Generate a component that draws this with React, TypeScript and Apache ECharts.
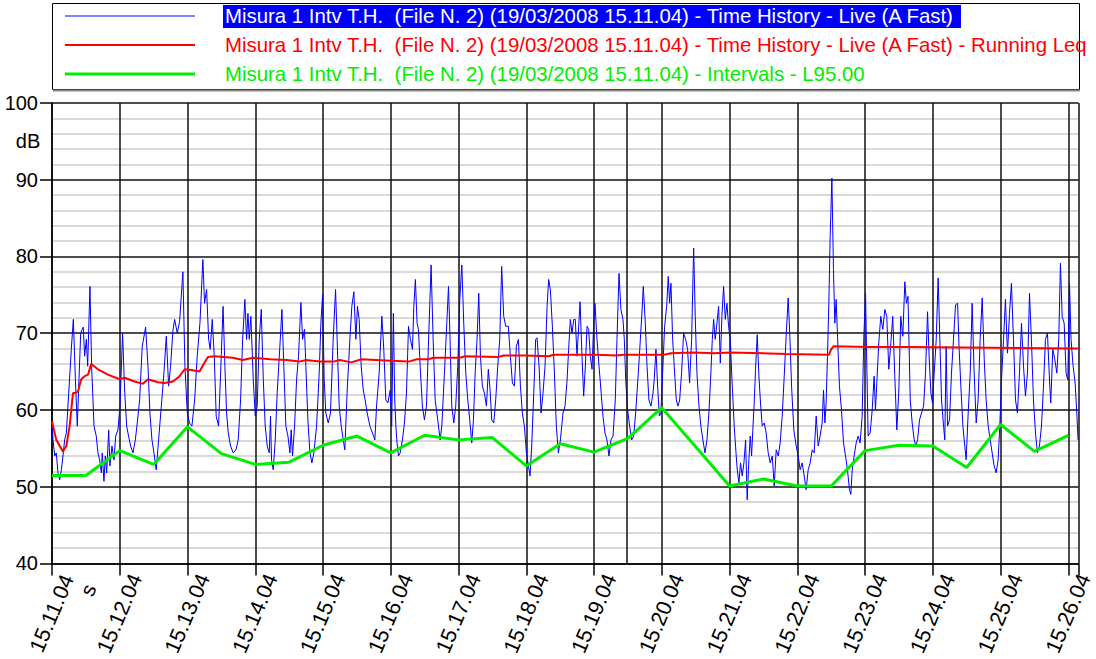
import React, { useEffect, useRef } from "react";
import * as echarts from "echarts";

// Time in seconds from 15.11.04, level in dB
const liveTrace: [number, number][] = [
  [0,58.3],[0.9,56.1],[2.4,54],[3.8,54.4],[5.3,51.8],[6.8,50.9],[8.3,52.2],[9.7,54],[11.2,56.1],[12.7,57],[14.8,62.2],[17.1,67.9],[18.9,71.8],[20.7,64],[22.4,57.9],[23.9,64],[25.4,70],[26.8,70.5],[27.7,70.8],[28.9,67],[30.4,69.2],[31.6,65.7],[33.6,76.1],[35.1,65.7],[37.2,57.9],[39.2,56.6],[40.7,54.4],[42.2,53.5],[43.7,51.8],[44.5,54.4],[46,50.7],[47.2,54],[48.4,51.8],[50.2,57.4],[51.3,52.7],[53.1,55.3],[54.9,53.5],[56.4,56.6],[58.4,57.4],[60.2,60.5],[62.5,70],[64.3,62.6],[66.1,57.9],[67.8,56.6],[69.6,55.3],[71.7,54.4],[73.8,56.1],[75.5,58.3],[77.6,61.3],[79.9,68.3],[82.9,70.8],[85,65.7],[86.7,59.6],[88.5,56.1],[90.3,54.4],[92.3,52.2],[94.4,56.1],[96.8,60.5],[99.1,64.8],[101.2,69.6],[103.3,63.1],[105,65.7],[107.1,70.4],[108.6,71.8],[110.9,70],[113,71.5],[115.9,78],[117.7,65.7],[119.8,59.6],[121.8,58.3],[123.9,57.9],[126.3,61.3],[128.6,67],[131,71.3],[133.6,79.6],[135.1,73.9],[136.9,75.7],[138.7,69.2],[140.1,67.9],[141.9,71.8],[143.7,67],[145.4,59.2],[147.5,57.9],[149.3,64.8],[151.5,73.5],
  [153.1,65.7],[154.6,59.6],[156.1,57],[158.1,55.3],[160.5,54.4],[162.9,54.8],[164.9,56.1],[167,61.3],[168.8,69.2],[170.8,74.4],[172.3,69.2],[173.5,72.6],[174.7,69.2],[176.1,72.2],[178.2,64],[180,59.2],[181.7,60.5],[183.5,69.2],[185.3,73.1],[187.1,64],[188.8,57.9],[190.6,55.3],[192.4,54.4],[193.5,59.2],[194.4,53.5],[195.9,52.2],[197.7,56.1],[199.4,62.2],[201.8,68.3],[203.6,73.1],[205.3,65.7],[207.1,57.9],[208.9,56.6],[210.7,54.4],[211.8,57.4],[213,54],[214.8,57.9],[216.6,64],[218.3,67],[220.4,74],[221.9,69.2],[223.6,70.5],[224.8,65.7],[226.6,58.7],[228.4,54.4],[230.1,53.1],[231.9,54.4],[234.3,57.9],[236.6,64.8],[238.1,71.3],[239.6,75],[241,64],[242.5,59.6],[244.6,58.3],[246.6,59.6],[249,69.2],[251.1,75.7],[252.5,69.2],[254.3,60.5],[256.1,57.9],[257.9,56.1],[259.3,54.8],[261.4,62.6],[263.8,69.2],[265.5,73.5],[267.3,75.4],[269.1,69.2],[270.5,73.5],[272,71.8],[273.8,65.7],[275.6,62.6],[277.3,61.3],[279.1,59.6],[281.5,57.9],[283.8,57],[285.9,56.1],[287.4,60.5],[289.7,64.8],[292.1,72.2],[293.8,67.9],[295.6,61.3],[297.4,60.9],[299.5,62.6],[300.8,57.9],[302.3,72.6],[303.5,61.3],[304.5,57.9],
  [305.3,56.1],[306.8,54],[308.3,54.4],[310.3,56.1],[312.1,58.3],[313.9,62.2],[315.7,70.9],[317.4,69.2],[319.2,67.9],[320.4,73.5],[321.8,77],[323.3,71.3],[324.5,70.5],[326,65.7],[328,60.5],[329.8,58.7],[331.6,60.5],[333.3,68.3],[335.7,78.9],[337.5,69.2],[339.3,61.3],[341.6,58.7],[343.7,56.1],[345.2,57.9],[347.5,64.8],[349.6,71.3],[351.1,76.1],[352.5,69.2],[354,60.5],[355.8,58.3],[357.5,60.5],[359.3,65.7],[361.1,74.4],[362.9,78.9],[364.6,71.3],[366.4,64.8],[368.2,61.3],[369.9,58.7],[371.7,55.7],[373.2,58.7],[374.7,64.8],[376.4,69.2],[377.9,75.2],[379.4,67],[381.1,63.1],[382.9,62.2],[384.7,60.5],[386.4,65.3],[387.9,62.6],[389.4,58.7],[391.2,58.3],[392.9,61.3],[394.7,65.7],[396.5,69.2],[398.2,78.7],[400,72.2],[401.8,70.9],[404.1,70.9],[405.9,67],[407.7,63.5],[409.5,63.1],[411.2,68.3],[413,69.2],[414.8,63.1],[416.5,59.6],[418.3,57.9],[420.1,54.4],[421.9,52.7],[423.3,51.4],[424.8,55.3],[426.6,62.2],[428.3,69.2],[429.5,69.4],[431.3,65.7],[433.1,59.6],[434.8,62.2],[436.6,65.7],[438.4,73.5],[439.8,77],[441.3,75.7],[443.1,70.9],[444.9,64.8],[446.6,57.9],[448.4,54.4],[450.2,56.1],[452.5,59.6],
  [454.3,60.5],[456.1,63.9],[457.5,67.9],[459,71.8],[460.5,70],[462,71.8],[463.4,71.8],[464.9,67],[466.4,70.9],[467.6,74.1],[469.3,67],[470.8,61.8],[472.3,65.7],[473.8,70.9],[475.2,70.5],[476.7,67],[478.2,65.3],[479.7,71.3],[480.8,73.9],[482.6,69.2],[484.4,65.7],[486.1,62.6],[487.9,59.2],[489.7,57],[491.4,56.1],[493.2,54],[495,56.1],[496.8,56.6],[498.8,61.3],[500.3,69.2],[502.1,77.8],[503.8,73.1],[505.6,71.8],[506.8,69.2],[508,64],[509.7,60],[511.5,57.9],[513.3,56.1],[515.1,56.6],[516.8,59.6],[519.2,64.8],[521,69.2],[522.4,72.6],[523.6,76.1],[525.4,71.3],[526.9,65.7],[528.6,61.3],[530.4,60.5],[532.2,62.2],[533.3,64],[534.8,67.9],[536.3,63.1],[537.8,59.2],[539.2,59.6],[540.7,64.8],[542.5,70.9],[544.3,73.5],[545.7,77.4],[546.9,73.9],[548.1,76.5],[549.6,69.2],[551,65.7],[552.8,61.3],[554.3,60.5],[555.8,61.3],[557.5,64.8],[559.3,70],[561.1,69.2],[562.8,67.9],[564.6,63.5],[566.4,69.2],[568.2,81.1],[569.6,72.2],[571.1,64.8],[572.9,60.5],[574.6,57.9],[576.4,56.1],[578.2,54.4],[580,56.1],[581.7,59.6],[583.2,64],[584.7,69.2],[585.9,71.8],[587.3,69.2],[588.8,71.3],[590.3,73.5],[591.8,66.1],[593.2,72.2],[594.7,76.1],[596.2,71.8],[597.7,73.9],[599.1,70.9],[600.6,69.2],[602.4,63.1],[604.1,57.9],[605.9,54],
  [606.8,52.2],[608.3,50.5],[609.7,53.1],[611.2,51.4],[612.7,53.1],[614.2,56.1],[615.6,48.3],[617.1,53.5],[618.3,56.6],[619.5,54],[620.6,57.4],[621.8,60.9],[623,65.3],[624.5,69.8],[626,64.4],[627.4,60.9],[628.9,57.9],[630.7,58.3],[632.4,57],[634.2,54.4],[636,53.1],[637.8,54],[639.5,50.1],[641.3,54.8],[643.1,54],[644.8,55.7],[646.6,59.2],[648.4,64.4],[650.1,69.6],[651.9,74.6],[653.4,69.6],[654.9,63.1],[656.9,57.4],[659,55.3],[660.8,54],[662.5,52.2],[664.3,53.1],[666.1,51.4],[667.8,49.6],[669.6,52.2],[671.4,53.1],[673.2,54.8],[674.9,54.4],[676.7,59.2],[678.5,55.3],[680.2,56.6],[682,58.3],[683.2,62.6],[684.4,58.3],[685.5,60.9],[686.7,67],[687.9,73.9],[689.1,82.6],[690.6,90.2],[692,78.3],[693.2,71.3],[694.4,74.4],[695.6,69.6],[697.3,63.1],[699.1,60],[700.9,55.7],[702.7,54],[704.4,52.2],[706.2,49.6],[707.4,49],[708.6,52.2],[710.3,54],[712.1,55.7],[713.9,56.6],[715.6,55.7],[717.4,59.2],[718.9,69.6],[720.4,75.2],[721.5,66.1],[722.7,56.6],[724.5,57],[726.3,60],[728,64.4],[729.2,60],[730.4,63.5],[732.1,68.7],[733.9,72.2],[735.7,70.5],[737.5,73.1],[739.2,72.2],[741,65.3],[742.8,68.7],[744.5,72.2],[746.3,64.4],[748.1,57.4],[749.9,62.6],[751.6,72.2],[753.4,69.6],[755.2,76.7],[756.6,73.9],[758,74.8],
  [760,61.3],[761.7,58.3],[763.5,56.1],[765,55.3],[766.5,56.1],[768.2,58.7],[770,59.6],[771.8,60.5],[773.5,64.8],[775.3,72.8],[776.8,66.6],[778.3,62.2],[779.7,60.9],[781.2,64.8],[783,69.2],[784.7,77.2],[786.2,69.2],[787.7,61.3],[789.5,57.9],[790.6,56.1],[791.8,68.3],[793,57.9],[794.8,58.7],[796.5,64.8],[798.3,69.2],[800.1,73.7],[801.9,73.9],[803.3,67.9],[804.8,63.1],[806.6,57.9],[808.3,55.3],[809.5,53.5],[811.3,59.6],[813.1,64.8],[814.8,73.9],[816.6,64.8],[818.4,58.3],[820.1,61.3],[821.9,69.2],[823.7,74.6],[825.5,66.6],[827.2,61.3],[829,57.9],[830.8,56.1],[832.5,54.4],[834.3,52.7],[836.1,51.8],[837.8,53.5],[839.3,57.9],[840.8,63.9],[842.6,69.2],[844.3,74.4],[846.1,67.4],[847.9,72.6],[849.6,76.5],[851.4,69.2],[853.2,61.3],[854.9,59.6],[856.7,64.8],[858.5,71.3],[860.3,65.7],[862,61.8],[863.8,64.8],[865.6,75.2],[867.3,69.2],[869.1,61.3],[870.9,57],[872.6,54.4],[874.4,55.3],[876.2,57.9],[878,63.1],[879.7,69.2],[881.5,70],[883.3,63.9],[884.4,60.9],[886.2,67.9],[888,66.6],[889.8,64.8],[891.5,69.2],[893,79.1],[894.5,72.2],[896.3,71.3],[898,64.8],[899.5,63.9],[901,76.5],[902.4,69.2],[904.2,65.7],[906,63.5],[907.5,59.6],[908.6,56.1]
];

const runningLeq: [number, number][] = [
  [0,58.5],[3.8,56.1],[9.7,54.6],[12.7,55.3],[15.6,57.9],[18.6,62.2],[20.1,62.2],[23,62.4],[25.9,64],[28.9,64.4],[31.9,64.6],[34.8,66],[40.7,65.3],[49.6,64.6],[59.9,64],[64.3,64.2],[73.2,63.7],[80.5,63.4],[85,64],[93.8,63.6],[99.7,63.5],[107.1,63.7],[113,64.4],[117.4,65.3],[123.3,65.2],[130.7,65],[133.6,65.8],[138.1,66.9],[144,67],[160,66.8],[169,66.5],[178,66.8],[193,66.6],[208,66.5],[219,66.3],[225,66.5],[237,66.3],[249,66.3],[255,66.5],[265,66.2],[274,66.6],[287,66.5],[300,66.4],[316,66.3],[323,66.6],[333,66.6],[338,66.8],[351,66.8],[361,66.8],[366,67],[395,66.9],[400,67.1],[419,67.1],[440,67],[444,67.2],[482,67.2],[500,67.1],[506,67.2],[542,67.2],[548,67.4],[568,67.5],[586,67.4],[601,67.5],[650,67.3],[688,67.2],[690,67.9],[692,68.3],[723,68.2],[760,68.2],[909,68]
];

const l95Times = [0,30,60,90,120,150,180,210,240,270,300,330,360,390,420,450,480,510,540,570,600,630,660,690,720,750,780,810,840,870,900];
const l95Values = [51.45,51.45,54.7,52.9,57.8,54.3,52.9,53.2,55.4,56.6,54.4,56.7,56.1,56.4,52.7,55.6,54.5,56.3,60.3,55.2,50.1,51.0,50.1,50.1,54.7,55.4,55.3,52.5,58.1,54.6,56.7];

const cursorTime = 509;
const timeMax = 909;
const yTicks = { min: 40, max: 100, step: 10 };

const legendNames = [
  "Misura 1 Intv T.H.  (File N. 2) (19/03/2008 15.11.04) - Time History - Live (A Fast)",
  "Misura 1 Intv T.H.  (File N. 2) (19/03/2008 15.11.04) - Time History - Live (A Fast) - Running Leq",
  "Misura 1 Intv T.H.  (File N. 2) (19/03/2008 15.11.04) - Intervals - L95.00",
];
const seriesColors = ["#0000ff", "#ff0000", "#00ee00"];

const FONT = "'Liberation Sans', Arial, sans-serif";

function fmtTime(t: number): string {
  if (Math.abs(t % 60) > 0.001) return "";
  const m = 11 + Math.round(t / 60);
  return `15.${m < 10 ? "0" + m : m}.04`;
}

export default function App() {
  const ref = useRef<HTMLDivElement>(null);
  useEffect(() => {
    document.body.style.margin = "0";
    const chart = echarts.init(ref.current!, null, { renderer: "svg" });
    const rowY = [16, 45, 74];
    const legendGraphics: any[] = [
      {
        type: "rect",
        shape: { x: 52.5, y: 3.5, width: 1027, height: 86 },
        style: { fill: "#fff", stroke: "#000", lineWidth: 1 },
        z: 10,
      },
      {
        type: "line",
        shape: { x1: 53, y1: 90.5, x2: 1080, y2: 90.5 },
        style: { stroke: "#888", lineWidth: 2 },
        z: 10,
      },
      {
        type: "rect",
        shape: { x: 223, y: 5, width: 738, height: 23 },
        style: { fill: "#0000ff" },
        z: 11,
      },
    ];
    const sampleColors = ["#8080ff", "#ff0000", "#00ee00"];
    const sampleWidths = [2, 2, 3];
    legendNames.forEach((name, i) => {
      legendGraphics.push({
        type: "line",
        shape: { x1: 65, y1: rowY[i], x2: 195, y2: rowY[i] },
        style: { stroke: sampleColors[i], lineWidth: sampleWidths[i] },
        z: 12,
      });
      legendGraphics.push({
        type: "text",
        x: 225,
        y: rowY[i],
        style: {
          text: name,
          fill: i === 0 ? "#ffffff" : seriesColors[i],
          font: `20.4px ${FONT}`,
          verticalAlign: "middle",
        },
        z: 12,
      });
    });
    legendGraphics.push({
      type: "text",
      x: 28,
      y: 141,
      style: { text: "dB", fill: "#000", font: `20px ${FONT}`, align: "center", verticalAlign: "middle" },
      z: 12,
    });
    legendGraphics.push({
      type: "text",
      x: 88,
      y: 590,
      rotation: (67 * Math.PI) / 180,
      style: { text: "s", fill: "#000", font: `21px ${FONT}`, align: "center", verticalAlign: "middle" },
      z: 12,
    });

    chart.setOption({
      animation: false,
      backgroundColor: "#fff",
      grid: { left: 52, right: 17, top: 103, bottom: 95, containLabel: false },
      graphic: legendGraphics,
      xAxis: {
        type: "value",
        min: 0,
        max: timeMax,
        interval: 60,
        axisLine: { show: true, onZero: false, lineStyle: { color: "#000", width: 1.5 } },
        axisTick: { show: true, length: 12, lineStyle: { color: "#000", width: 1.5 } },
        axisLabel: {
          rotate: 67,
          margin: 50,
          align: "center",
          verticalAlign: "middle",
          fontSize: 21.5,
          fontFamily: FONT,
          color: "#000",
          formatter: (v: number) => fmtTime(v),
        },
        splitLine: { show: true, lineStyle: { color: "#111", width: 1.5 } },
      },
      yAxis: {
        type: "value",
        min: yTicks.min,
        max: yTicks.max,
        interval: yTicks.step,
        axisLine: { show: true, lineStyle: { color: "#000", width: 1.5 } },
        axisTick: { show: true, length: 12, lineStyle: { color: "#000", width: 1.5 } },
        axisLabel: { margin: 14, fontSize: 20, fontFamily: FONT, color: "#000" },
        minorTick: { show: false, splitNumber: 5 },
        minorSplitLine: { show: true, lineStyle: { color: "#cccccc", width: 1.5 } },
        splitLine: { show: true, lineStyle: { color: "#111", width: 1.5 } },
      },
      series: [
        {
          name: legendNames[0],
          type: "line",
          data: liveTrace,
          showSymbol: false,
          symbol: "none",
          lineStyle: { color: seriesColors[0], width: 1 },
          z: 3,
        },
        {
          name: legendNames[1],
          type: "line",
          data: runningLeq,
          showSymbol: false,
          symbol: "none",
          lineStyle: { color: seriesColors[1], width: 2 },
          z: 4,
          markLine: {
            silent: true,
            symbol: "none",
            label: { show: false },
            lineStyle: { color: "#111", width: 1.5, type: "solid" },
            data: [{ xAxis: cursorTime }],
          },
        },
        {
          name: legendNames[2],
          type: "line",
          data: l95Times.map((t, i) => [t, l95Values[i]]),
          showSymbol: false,
          symbol: "none",
          lineStyle: { color: seriesColors[2], width: 3 },
          z: 5,
        },
      ],
    });
    return () => chart.dispose();
  }, []);
  return <div ref={ref} style={{ position: "absolute", left: 0, top: 0, width: 1096, height: 659 }} />;
}
